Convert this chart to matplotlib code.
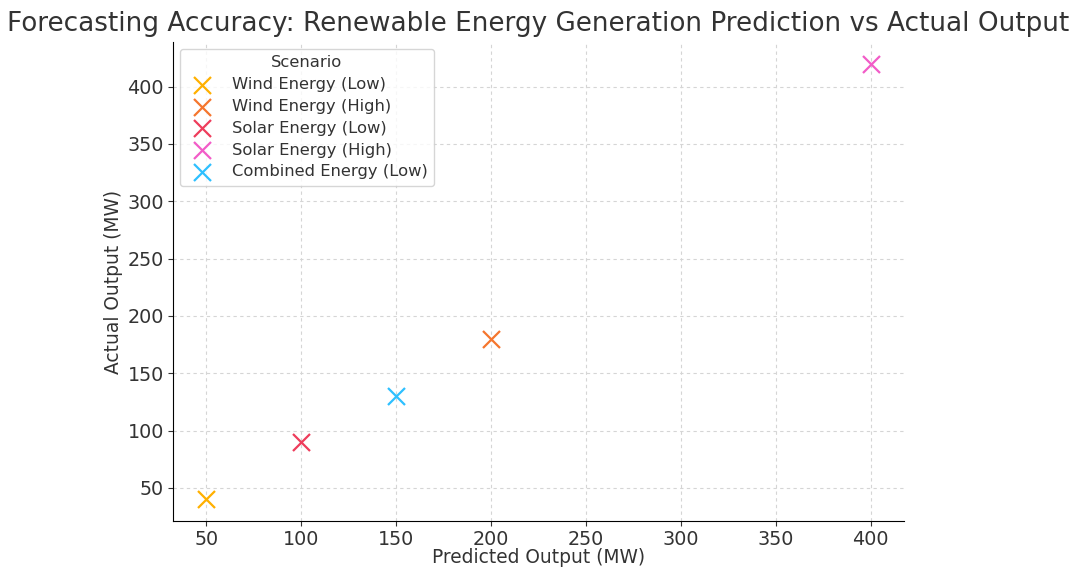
import matplotlib
matplotlib.use("Agg")
import matplotlib.pyplot as plt

scenarios = ["Wind Energy (Low)", "Wind Energy (High)", "Solar Energy (Low)",
             "Solar Energy (High)", "Combined Energy (Low)"]
predicted = [50, 200, 100, 400, 150]
actual = [40, 180, 90, 420, 130]
colors = ["#FFB000", "#F5762E", "#EE3D5C", "#F25CC8", "#2EC0FF"]

plt.rcParams['font.family'] = ['DejaVu Sans']
plt.rcParams['text.color'] = '#333333'
plt.rcParams['axes.labelcolor'] = '#333333'
plt.rcParams['xtick.color'] = '#333333'
plt.rcParams['ytick.color'] = '#333333'

fig = plt.figure(figsize=(10.71, 5.67), dpi=100)
ax = fig.add_axes([0.1615, 0.081, 0.6825, 0.845])

for name, x, y, c in zip(scenarios, predicted, actual, colors):
    ax.scatter(x, y, marker='x', s=150, linewidths=1.6, color=c, label=name)

ax.set_title("Forecasting Accuracy: Renewable Energy Generation Prediction vs Actual Output",
             fontsize=18.9, color='#333333', pad=8)
ax.set_xlabel("Predicted Output (MW)", fontsize=13.4, labelpad=-1)
ax.set_ylabel("Actual Output (MW)", fontsize=13.4, labelpad=3)
ax.tick_params(labelsize=13.8, pad=3)
ax.grid(True, linestyle=(0, (3, 3)), color='#d5d5d5', linewidth=0.8)
ax.set_axisbelow(True)
for s in ['top', 'right']:
    ax.spines[s].set_visible(False)
ax.set_xticks([50, 100, 150, 200, 250, 300, 350, 400])
ax.set_yticks([50, 100, 150, 200, 250, 300, 350, 400])
leg = ax.legend(title="Scenario", loc='upper left', fontsize=11.8, title_fontsize=11.8,
                frameon=True, borderaxespad=0.4, labelspacing=0.42, handletextpad=0.8)
leg.get_frame().set_edgecolor('#cccccc')
fig.savefig("out.png", dpi=100)
